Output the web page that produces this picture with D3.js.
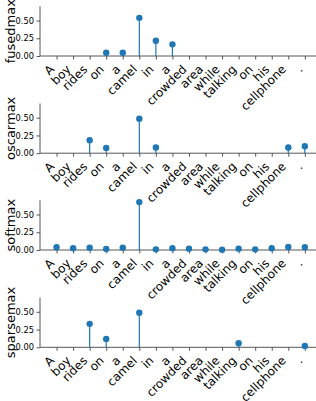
<!DOCTYPE html>
<html><head><meta charset="utf-8">
<script src="https://cdn.jsdelivr.net/npm/d3@7"></script>
<style>body{margin:0;background:#fff}svg{display:block}text{font-family:"DejaVu Sans",sans-serif}</style>
</head><body><svg id="c" width="316" height="401"></svg>
<script>
const words = ["A","boy","rides","on","a","camel","in","a","crowded","area","while","talking","on","his","cellphone","."];
const methods = ["fusedmax","oscarmax","softmax","sparsemax"];
const fusedmax  = [0,0,0,0.045,0.045,0.537,0.215,0.164,0,0,0,0,0,0,0,0];
const oscarmax  = [0,0,0.182,0.075,0,0.486,0.08,0,0,0,0,0,0,0,0.08,0.098];
const softmax   = [0.038,0.024,0.033,0.014,0.033,0.675,0.009,0.024,0.019,0.009,0.005,0.019,0.009,0.024,0.042,0.038];
const sparsemax = [0,0,0.33,0.118,0,0.486,0,0,0,0,0,0.057,0,0,0,0.019];
const yTicks = [0,0.25,0.5];
const series = [fusedmax, oscarmax, softmax, sparsemax];

const svg = d3.select("#c");
const color = "#1f77b4";
const x = d3.scaleLinear().domain([-1,16]).range([40,321.4]);
const baseY = [56,153.2,250,347.3];
const h = 49.7;

series.forEach((vals,k)=>{
  const y = d3.scaleLinear().domain([0,0.7]).range([baseY[k], baseY[k]-h]);
  const g = svg.append("g");
  const ya = d3.axisLeft(y).tickValues(yTicks).tickFormat(d3.format(".2f")).tickSize(3.5).tickPadding(2.5);
  const yg = g.append("g").attr("transform","translate(40,0)").call(ya);
  yg.select(".domain").attr("d",`M0,${baseY[k]}V${baseY[k]-h}`);
  yg.selectAll("text").attr("font-size",8.3).attr("font-family","DejaVu Sans").attr("fill","#000");
  const xa = d3.axisBottom(x).tickValues(d3.range(words.length)).tickFormat(i=>words[i]).tickSize(3.5);
  const xg = g.append("g").attr("transform",`translate(0,${baseY[k]})`).call(xa);
  xg.select(".domain").attr("d",`M40,0H321.4`);
  xg.selectAll("text").attr("font-size",12).attr("font-family","DejaVu Sans").attr("fill","#000")
    .attr("y",0).attr("dy",0).attr("text-anchor","end")
    .attr("transform","translate(-2,14) rotate(-45)");
  [yg,xg].forEach(a=>{a.selectAll(".domain,.tick line").attr("stroke","#444").attr("stroke-width",0.9);});
  g.append("text").attr("transform",`translate(15,${baseY[k]-h/2}) rotate(-90)`)
    .attr("text-anchor","middle").attr("font-size",13).attr("fill","#000").text(methods[k]);
  const data = vals.map((v,i)=>({i,v})).filter(d=>d.v>0);
  g.selectAll("line.stem").data(data).join("line").attr("class","stem")
    .attr("x1",d=>x(d.i)).attr("x2",d=>x(d.i)).attr("y1",y(0)).attr("y2",d=>y(d.v))
    .attr("stroke",color).attr("stroke-width",1.2);
  g.selectAll("circle").data(data).join("circle")
    .attr("cx",d=>x(d.i)).attr("cy",d=>y(d.v)).attr("r",3.2).attr("fill",color);
});
</script></body></html>
